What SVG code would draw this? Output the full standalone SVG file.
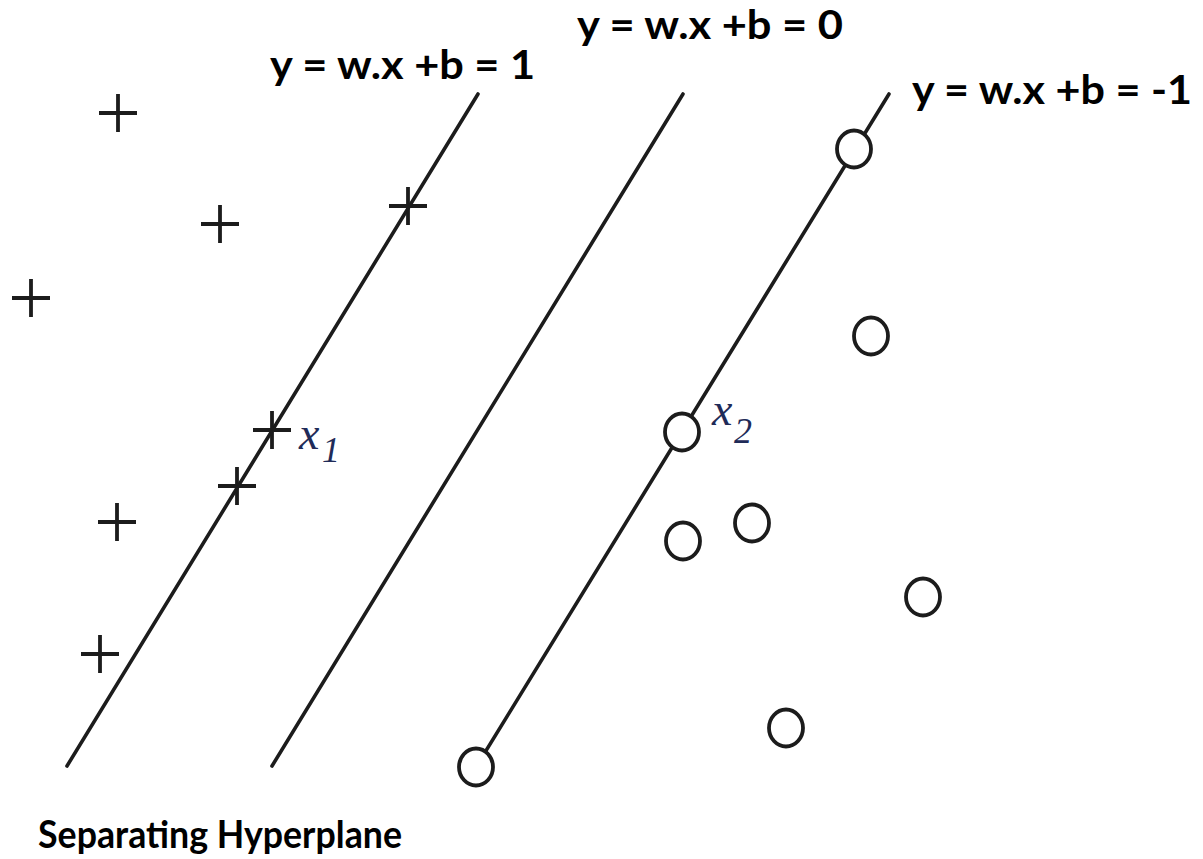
<svg xmlns="http://www.w3.org/2000/svg" xmlns:xlink="http://www.w3.org/1999/xlink" width="1203" height="859" viewBox="0 0 1203 859">
<style>
.line{stroke:#1c1c1c;stroke-width:3.6;fill:none;stroke-linecap:round}
.plus{stroke:#1c1c1c;stroke-width:3.8;fill:none}
.circ{stroke:#1c1c1c;stroke-width:3.8;fill:#ffffff}
.lbl{font-family:Lato,"Liberation Sans",sans-serif;font-weight:bold;font-size:40px;fill:#000}
.title{font-family:Lato,"Liberation Sans",sans-serif;font-weight:bold;font-size:38px;fill:#000}
.var{font-family:"Liberation Serif","DejaVu Serif",serif;font-style:italic;fill:#1f2b58}
</style>
<defs>
<path id="plus" class="plus" d="M-19 0H19M0-19V19"/>
<ellipse id="circ" class="circ" cx="0" cy="0" rx="17" ry="18.5"/>
</defs>
<rect width="1203" height="859" fill="#ffffff"/>
<g id="hyperplanes">
<line class="line" x1="67" y1="766" x2="478" y2="94"/>
<line class="line" x1="272" y1="766" x2="683" y2="94"/>
<line class="line" x1="889" y1="94" x2="476" y2="767"/>
</g>
<g id="plus-1"><use xlink:href="#plus" x="118" y="113"/></g>
<g id="plus-2"><use xlink:href="#plus" x="220" y="224"/></g>
<g id="plus-3"><use xlink:href="#plus" x="31" y="298"/></g>
<g id="plus-4"><use xlink:href="#plus" x="408" y="206"/></g>
<g id="plus-x1"><use xlink:href="#plus" x="272" y="430"/></g>
<g id="plus-6"><use xlink:href="#plus" x="237" y="486"/></g>
<g id="plus-7"><use xlink:href="#plus" x="117" y="522"/></g>
<g id="plus-8"><use xlink:href="#plus" x="100" y="654"/></g>
<g id="circle-1"><use xlink:href="#circ" x="854" y="149"/></g>
<g id="circle-2"><use xlink:href="#circ" x="871" y="336"/></g>
<g id="circle-x2"><use xlink:href="#circ" x="682" y="432"/></g>
<g id="circle-4"><use xlink:href="#circ" x="683" y="541"/></g>
<g id="circle-5"><use xlink:href="#circ" x="752" y="523"/></g>
<g id="circle-6"><use xlink:href="#circ" x="923" y="597"/></g>
<g id="circle-7"><use xlink:href="#circ" x="786" y="728"/></g>
<g id="circle-8"><use xlink:href="#circ" x="476" y="767"/></g>
<g id="label-x1"><text class="var" x="299" y="449" font-size="46">x</text><text class="var" x="322" y="462" font-size="36">1</text></g>
<g id="label-x2"><text class="var" x="712" y="425" font-size="46">x</text><text class="var" x="734" y="443" font-size="36">2</text></g>
<g id="label-plus1"><text class="lbl" x="270" y="79" textLength="265" lengthAdjust="spacingAndGlyphs">y = w.x +b = 1</text></g>
<g id="label-zero"><text class="lbl" x="577" y="39" textLength="266" lengthAdjust="spacingAndGlyphs">y = w.x +b = 0</text></g>
<g id="label-minus1"><text class="lbl" x="912" y="104" textLength="280" lengthAdjust="spacingAndGlyphs">y = w.x +b = -1</text></g>
<g id="title"><text class="title" x="38" y="848" textLength="364" lengthAdjust="spacingAndGlyphs">Separating Hyperplane</text></g>
</svg>
